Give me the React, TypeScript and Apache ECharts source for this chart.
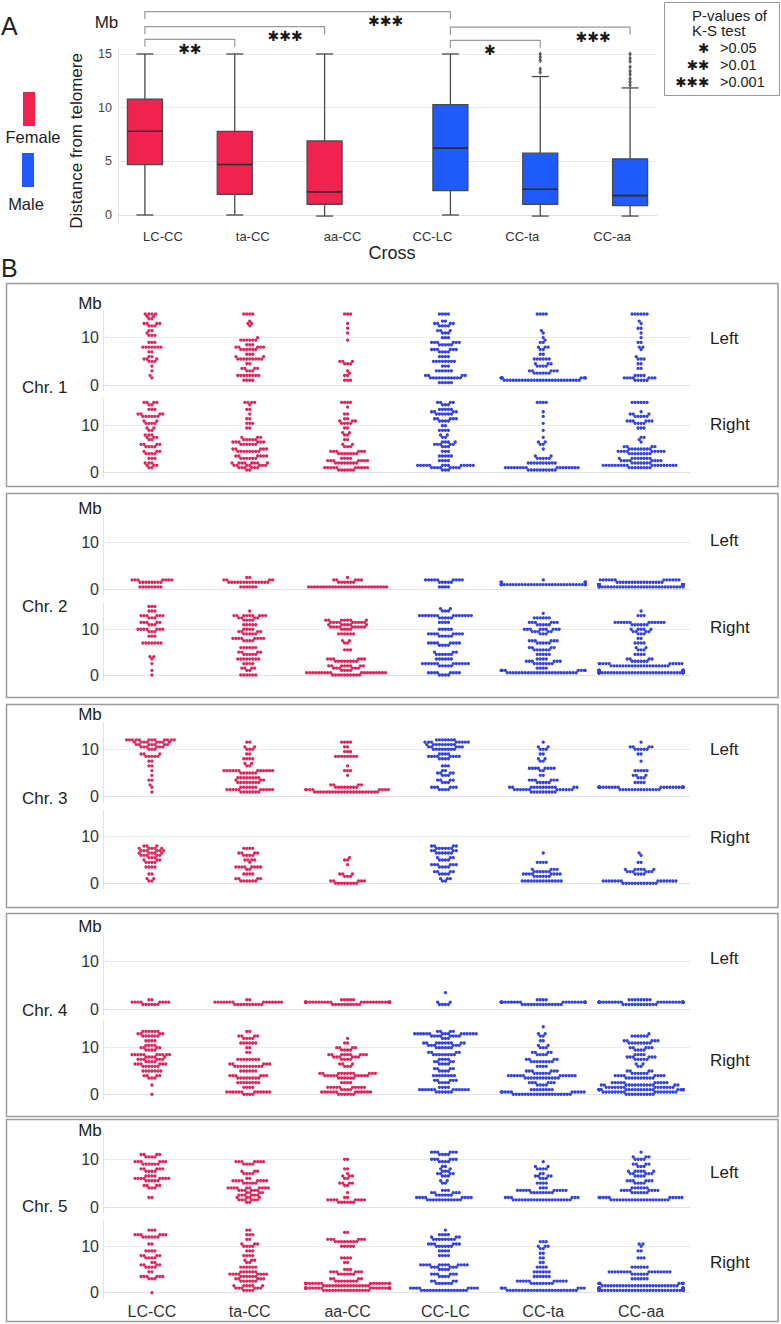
import React, { useEffect, useRef } from "react";
import * as echarts from "echarts";

// ---------------- DATA ----------------
const crosses = ["LC-CC", "ta-CC", "aa-CC", "CC-LC", "CC-ta", "CC-aa"];
const sexOfCross = ["Female", "Female", "Female", "Male", "Male", "Male"];

// Panel A box statistics: [lower whisker, Q1, median, Q3, upper whisker] (Mb)
const boxLow = [0, 0, -0.1, 0, -0.1, -0.1];
const boxQ1 = [4.7, 1.93, 1.0, 2.27, 1.0, 0.87];
const boxMedian = [7.8, 4.7, 2.15, 6.23, 2.4, 1.8];
const boxQ3 = [10.8, 7.8, 6.9, 10.28, 5.76, 5.23];
const boxHigh = [15, 15, 15, 15, 12.9, 11.84];
const outliersCCta = [15, 14.7, 14.4, 13.6, 13.3];
const outliersCCaa = [15, 14.6, 14.3, 13.8, 13.4, 13.1, 12.7, 12.4, 12.1];
const yTicksA = [0, 5, 10, 15];

// K-S test comparisons: [category a, category b, significance]
const comparisons: [number, number, number][] = [
  [0, 1, 2],
  [0, 2, 3],
  [0, 3, 3],
  [3, 4, 1],
  [3, 5, 3],
];
const STAR = "\u2731";
const pLegendStars = [1, 2, 3];
const pLegendValues = [">0.05", ">0.01", ">0.001"];

// Panel B: swarm values, "value*count" (Mb), one string per cross
const chr1Left = [
  "15*4 14.5*2 14*2 13*4 12.5*3 11.5*2 11*1 10.5*3 9*3 8*7 7*2 6*2 5.5*3 5*3 4*1 3*1 2*1 1.5*1",
  "15*4 13.5*1 13*2 12.5*1 10*1 9.5*6 8.5*3 8*5 7.5*6 6.5*3 6*2 5.5*9 4.5*2 3.5*4 3*3 2*8 1*4",
  "15*3 13*1 12*1 11*1 9.5*1 5*3 4.5*3 3*1 2.5*1 2*2 1*3",
  "15*4 13.5*2 13*4 12.5*4 11.5*3 11*3 10*3 9*6 8.5*5 7.5*6 7*4 6*4 5*8 4*3 3*6 2*4 1.5*11 0.5*5",
  "15*4 11.5*1 11*1 10*1 9.5*1 9*2 8*3 7.5*2 6.5*2 5.5*6 4.5*3 4*4 3*5 2.5*6 1.5*8 1*26",
  "15*6 13.5*1 13*1 12*2 11*1 10*1 9*2 8*2 7.5*1 6*1 5.5*3 4.5*2 3.5*2 2*4 1.5*7 1*5",
];
const chr1Right = [
  "15*4 14.5*2 13.5*3 12.5*4 12*6 11*2 10.5*4 9.5*2 9*2 8*3 7.5*3 7*2 6*4 5.5*4 4.5*3 4*4 3*3 2*3 1.5*3 1*2",
  "15*4 14.5*1 13.5*2 12.5*1 11.5*2 10.5*3 9.5*2 7.5*3 7*5 6.5*6 6*6 5*5 4.5*8 3.5*6 3*6 2*8 1.5*7 1*6 0.5*2",
  "15*4 14*1 12.5*2 11.5*2 11*3 10.5*4 9.5*2 8.5*2 8*2 7*2 6*2 5.5*3 4.5*6 4*7 3*4 2.5*7 2*8 1*10 0.5*6",
  "15*4 14.5*3 13.5*5 13*4 12.5*6 11.5*5 11*4 10*2 9*4 8*2 7.5*2 6.5*4 6*5 5.5*3 4.5*3 3.5*5 2.5*4 1.5*13 1*8 0.5*3",
  "15*4 13*1 12*1 10.5*1 9*1 7.5*1 6.5*2 6*2 5*1 3.5*2 3*5 2*10 1*16 0.5*10",
  "15*6 13*1 12.5*3 12*5 11*6 10.5*4 9.5*3 7.5*2 7*1 6.5*1 5.5*4 5*8 4.5*9 4*8 3*8 2.5*8 2*7 1.5*18 1*8",
];
const chr2Left = [
  "2*7 1.5*8 0.5*8",
  "2.5*2 2*4 1.5*14 0.5*6",
  "2.5*1 2*5 1.5*6 0.5*27",
  "2*9 1.5*5 0.5*4",
  "2*1 1.5*6 1*34",
  "2*12 1.5*16 1*40 0.5*30",
];
const chr2Right = [
  "15*3 14*3 13*6 12.5*3 11.5*5 11*3 10*7 9.5*3 8.5*3 7*7 4*2 3.5*1 2.5*1 1*1 0*1",
  "14*1 13*9 12.5*4 12*4 11*5 10*4 9.5*4 9*5 8*8 7.5*4 6*6 5*4 4.5*5 3.5*8 2.5*4 1.5*4 1*2 0*6",
  "12*7 11.5*9 11*6 10.5*9 10*4 9*6 7.5*2 7*2 5.5*3 3.5*6 3*8 2*8 1.5*6 1*4 0.5*18 0*10",
  "14.5*2 14*3 13*14 12.5*5 11.5*4 10*5 9*8 8.5*5 7*8 6.5*4 5*3 4.5*6 3.5*6 2.5*12 2*5 0.5*8 0*4",
  "13.5*1 12.5*6 11.5*6 11*5 10*9 9.5*5 9*3 7.5*6 7*5 6*4 5.5*6 4.5*5 3.5*4 3*6 2.5*7 1.5*4 1*8 0.5*24",
  "14*1 13*3 11.5*12 11*6 10*5 9.5*4 9*3 8*2 7*4 6*2 5.5*3 4.5*4 3.5*4 3*6 2.5*10 2*20 1*14 0.5*38",
];
const chr3Left = [
  "12*12 11.5*8 11*7 10.5*6 10*3 9*3 8.5*5 7.5*2 6.5*2 5.5*1 4.5*1 3.5*2 2.5*1 2*1 1*1",
  "11.5*2 10.5*2 10*3 9*2 8*4 7*2 6.5*2 5.5*12 5*6 4*8 3.5*3 3*8 2*6 1.5*10 1*7",
  "11.5*4 10.5*2 9.5*3 8.5*8 6.5*1 5.5*3 4.5*1 2.5*4 2*8 1.5*8 1*22",
  "12*7 11.5*8 11*9 10.5*5 10*8 9*4 8.5*8 8*4 6.5*3 5.5*2 5*4 4.5*3 3.5*4 3*3 2*6 1.5*4",
  "11.5*1 10.5*2 10*3 9*2 8*2 7.5*2 6*8 5.5*2 4.5*2 3.5*6 3*5 2*13 1.5*12 1*9",
  "11.5*1 10.5*4 10*5 9*2 7.5*1 5.5*5 4.5*3 4*3 3*4 2*24 1.5*14",
];
const chr3Right = [
  "8*3 7.5*5 7*6 6.5*5 6*5 5.5*3 5*3 4.5*4 3.5*4 2*2 1*2 0.5*2",
  "7.5*4 6.5*4 6*4 5*4 4.5*1 3.5*8 3*2 2*4 1*4 0.5*6",
  "5.5*1 5*2 4*1 2*3 1.5*3 0.5*5 0*8",
  "8*4 7.5*6 7*4 6.5*6 5.5*3 5*4 4*6 3.5*4 2.5*4 2*4 1*3 0.5*2",
  "6.5*1 4.5*4 3*4 2.5*6 2*8 1.5*6 0.5*14",
  "6.5*1 6*1 4.5*2 3*6 2.5*6 2*4 0.5*14 0*12",
];
const chr4Left = [
  "2*2 1.5*8 1*6",
  "2*2 1.5*14 1*10",
  "2*5 1.5*30 1*10",
  "3.5*1 1.5*2 1*4",
  "2*4 1.5*22 1*14",
  "2*8 1.5*30 1*12",
];
const chr4Right = [
  "13.5*6 13*4 12.5*6 11.5*4 10.5*4 10*4 9.5*4 8.5*10 8*5 7.5*6 7*4 6.5*6 6*6 5*7 4*4 3.5*3 2*1 0*1",
  "13.5*2 12.5*4 12*4 11*6 10*2 9*2 7.5*8 6.5*5 6*10 5*6 4*6 3.5*8 2.5*8 1.5*4 0.5*12 0*4",
  "12*1 11*2 10*4 9.5*4 8.5*9 8*6 7.5*4 6.5*3 6*3 4.5*11 4*10 3.5*6 2.5*4 1.5*10 1*4 0.5*12 0*6",
  "13.5*4 13*15 12.5*8 12*3 11*10 10.5*6 10*6 9*4 8.5*8 7.5*4 7*4 6.5*4 5.5*4 5*4 4*8 3*5 2.5*4 1.5*4 1*12 0.5*6",
  "14.5*1 13*2 12.5*2 11.5*2 10.5*2 10*3 9*4 8.5*4 7.5*4 7*8 6*4 5*6 4.5*6 4*12 3.5*12 2.5*6 2*4 1*8 0.5*10 0*20",
  "13*1 12.5*6 11.5*5 11*8 10*5 9.5*4 8.5*4 8*6 7.5*5 6.5*2 6*2 5*4 4.5*6 4*8 3.5*10 2.5*10 2*14 1.5*14 1*24 0.5*16 0*10",
];
const chr5Left = [
  "11*4 10.5*4 9.5*6 9*6 8*5 7.5*4 6.5*4 6*8 5.5*5 4.5*4 4*3 2*2",
  "9.5*7 9*4 7.5*3 7*4 6*2 5.5*8 5*5 4*10 3.5*6 3*4 2.5*6 2*4 1.5*6 1*2",
  "10*2 8*2 7*1 6.5*3 6*2 5*4 4.5*2 3*1 2*2 1.5*8 1*6",
  "11.5*6 11*4 10*6 9.5*4 8.5*2 8*2 7.5*3 7*4 6.5*3 5.5*2 5*2 3.5*3 3*5 2.5*6 2*8 1.5*12",
  "9.5*1 8.5*2 8*4 7*2 6.5*4 6*3 5*4 4*3 3.5*10 3*8 2*6 1.5*20",
  "11.5*1 10.5*3 10*4 9*4 8.5*3 7.5*6 7*5 6.5*4 5.5*6 5*4 4*6 3.5*8 3*6 2*10 1.5*20",
];
const chr5Right = [
  "13.5*3 12.5*6 12*6 10.5*2 9*4 8*4 7.5*4 6.5*2 6*4 5.5*4 4.5*2 3.5*6 3*3 0*1",
  "13.5*2 12.5*3 11.5*2 10.5*3 10*4 9*3 8*4 7*3 6.5*2 5.5*6 4.5*6 4*8 3.5*6 3*5 2.5*6 1.5*6 1*6 0.5*4",
  "13*2 11.5*6 11*8 10*5 7.5*4 6.5*2 5*3 4.5*6 4*6 3*4 2.5*8 2*18 1.5*16 1*24 0.5*16",
  "13.5*1 12.5*4 12*3 11.5*8 10.5*6 10*6 9*4 8*4 6*12 5.5*6 5*4 4*6 3.5*4 2.5*4 2*6 1*8 0.5*16",
  "11*3 10*3 9.5*2 8.5*2 7.5*2 6.5*2 5.5*4 4.5*6 3.5*6 2.5*10 2*8 1*6 0.5*24",
  "10.5*2 10*1 9*2 7.5*3 5.5*6 4.5*16 4*6 3*6 2*8 1.5*26 1*14 0.5*36",
];
const chromosomes = ["Chr. 1", "Chr. 2", "Chr. 3", "Chr. 4", "Chr. 5"];
const swarms = [
  [chr1Left, chr1Right],
  [chr2Left, chr2Right],
  [chr3Left, chr3Right],
  [chr4Left, chr4Right],
  [chr5Left, chr5Right],
];
const sides = ["Left", "Right"];
const yTicksB = [0, 10];

// ---------------- STYLE / LAYOUT ----------------
const FONT = "Liberation Sans, Arial, sans-serif";
const STAR_FONT_FAMILY = "DejaVu Sans, sans-serif";
const F_BOX = "#EF2250";
const M_BOX = "#1E5BF8";
const F_DOT = "#E1245A";
const M_DOT = "#3442E4";
const LINE = "#4a4a4a";
const AXIS_LINE = "#e2e2e2";
const GRID_LINE = "#ebebeb";
const TXT = "#222";

const A_LEFT = 118, A_TOP = 48, A_WIDTH = 539, A_HEIGHT = 176;
const A_YMIN = -0.84, A_YMAX = 15.56;
const DODGE = 18, BOX_W = 35, CAP_W = 17;
const bracketHeights = [16.37, 17.55, 18.95, 16.27, 17.5];
const starPositions = [0.3, 1.36, 2.48, 3.64, 4.79];
const TICK_DROP = 7.5, STAR_DY = 9.5, STAR_SIZE = 14;

const B_LEFT = 103, B_WIDTH = 587;
const panelTops = [283, 493, 704, 913, 1119];
const panelBottoms = [486, 697, 907, 1116, 1321];
// pixel offsets from panel top: [left 0, left 10, right 0, right 10]
const zeroTen = [
  [102, 54.7, 189.3, 142.7],
  [96.3, 49.3, 182, 136.3],
  [92.7, 45.3, 179.3, 132.7],
  [96.3, 48.7, 181.3, 134.7],
  [88, 40.3, 173.7, 127.3],
];
const mbLabelY = [303, 508, 714, 926, 1130];
const chrLabelY = [387, 606, 798, 1010, 1206];
const sideLabelY = [[338, 424], [540, 627], [749, 837], [958, 1060], [1172, 1262]];
const B_YMIN = -1.2, B_YMAX = 15.7;
const DOT_D = 3.0, DOT_R = 1.65, SWARM_HALF = 42;

function parseSwarm(s: string): number[] {
  const out: number[] = [];
  s.trim().split(/\s+/).forEach((tok) => {
    const [v, n] = tok.split("*");
    const val = parseFloat(v);
    const cnt = parseInt(n, 10);
    for (let k = 0; k < cnt; k++) out.push(val);
  });
  return out;
}

// beeswarm layout (pixel offsets) - layout only, values untouched
function swarmOffsets(values: number[], ppu: number): number[] {
  const order = values.map((_, i) => i).sort((a, b) => values[a] - values[b]);
  const placed: { x: number; y: number }[] = [];
  const out: number[] = new Array(values.length).fill(0);
  const d2 = DOT_D * DOT_D;
  for (const i of order) {
    const y = values[i] * ppu;
    const nb = placed.filter((p) => Math.abs(p.y - y) < DOT_D);
    const cands = [0];
    for (const p of nb) {
      const dx = Math.sqrt(Math.max(0, d2 - (p.y - y) * (p.y - y)));
      cands.push(p.x + dx, p.x - dx);
    }
    cands.sort((a, b) => Math.abs(a) - Math.abs(b) || a - b);
    let chosen = cands[cands.length - 1];
    for (const c of cands) {
      let ok = true;
      for (const p of nb) {
        if ((p.x - c) * (p.x - c) + (p.y - y) * (p.y - y) < d2 - 1e-6) { ok = false; break; }
      }
      if (ok) { chosen = c; break; }
    }
    placed.push({ x: chosen, y });
    out[i] = Math.max(-SWARM_HALF, Math.min(SWARM_HALF, chosen));
  }
  return out;
}

function txt(text: string, x: number, y: number, size: number, align = "left", extra: any = {}) {
  const { fill, weight, family, ...rest } = extra;
  return {
    type: "text",
    x, y, silent: true,
    ...rest,
    style: {
      text, fill: fill || TXT,
      font: `${weight || "normal"} ${size}px ${family || FONT}`,
      align, verticalAlign: "middle", textAlign: align, textVerticalAlign: "middle",
    },
  };
}

function buildOption() {
  const grid: any[] = [], xAxis: any[] = [], yAxis: any[] = [], series: any[] = [], graphic: any[] = [];

  // ---------- Panel A ----------
  grid.push({ left: A_LEFT, top: A_TOP, width: A_WIDTH, height: A_HEIGHT });
  xAxis.push({
    type: "category", gridIndex: 0, data: crosses,
    axisLine: { show: true, lineStyle: { color: AXIS_LINE } },
    axisTick: { show: false },
    axisLabel: { fontSize: 13, color: "#333", margin: 6, fontFamily: FONT },
    splitLine: { show: false },
  });
  yAxis.push({
    type: "value", gridIndex: 0, min: A_YMIN, max: A_YMAX,
    axisLine: { show: true, lineStyle: { color: AXIS_LINE } },
    axisTick: { show: false, customValues: yTicksA },
    axisLabel: { customValues: yTicksA, fontSize: 12.5, color: "#444", margin: 6, fontFamily: FONT },
    splitLine: { show: true, lineStyle: { color: GRID_LINE } },
  });
  const boxData = crosses.map((_, i) => [i, boxLow[i], boxQ1[i], boxMedian[i], boxQ3[i], boxHigh[i]]);
  series.push({
    type: "custom", xAxisIndex: 0, yAxisIndex: 0, clip: false, z: 3,
    encode: { x: 0, y: [1, 2, 3, 4, 5] },
    data: boxData,
    renderItem: (params: any, api: any) => {
      const i = api.value(0);
      const female = sexOfCross[i] === "Female";
      const cx = api.coord([i, 0])[0] + (female ? -DODGE : DODGE);
      const py = (v: number) => api.coord([i, v])[1];
      const lo = py(api.value(1)), q1 = py(api.value(2)), md = py(api.value(3)), q3 = py(api.value(4)), hi = py(api.value(5));
      const ls = { stroke: LINE, lineWidth: 1.3 };
      return {
        type: "group",
        children: [
          { type: "line", shape: { x1: cx, y1: hi, x2: cx, y2: q3 }, style: ls },
          { type: "line", shape: { x1: cx, y1: q1, x2: cx, y2: lo }, style: ls },
          { type: "line", shape: { x1: cx - CAP_W / 2, y1: hi, x2: cx + CAP_W / 2, y2: hi }, style: ls },
          { type: "line", shape: { x1: cx - CAP_W / 2, y1: lo, x2: cx + CAP_W / 2, y2: lo }, style: ls },
          { type: "rect", shape: { x: cx - BOX_W / 2, y: q3, width: BOX_W, height: q1 - q3 }, style: { fill: female ? F_BOX : M_BOX, stroke: LINE, lineWidth: 1.3 } },
          { type: "line", shape: { x1: cx - BOX_W / 2, y1: md, x2: cx + BOX_W / 2, y2: md }, style: { stroke: "#2f2a2d", lineWidth: 1.6 } },
        ],
      };
    },
  });
  series.push({
    type: "scatter", xAxisIndex: 0, yAxisIndex: 0, symbol: "diamond", symbolSize: [3.6, 5.5],
    symbolOffset: [DODGE, 0], itemStyle: { color: "#3c3c3c" }, z: 4, silent: true,
    data: [...outliersCCta.map((v) => [4, v]), ...outliersCCaa.map((v) => [5, v])],
  });
  series.push({
    type: "custom", xAxisIndex: 0, yAxisIndex: 0, clip: false, z: 5, silent: true,
    data: comparisons.map((c) => [c[0], 0]),
    renderItem: (params: any, api: any) => {
      const k = params.dataIndex;
      const [a, b, nStars] = comparisons[k];
      const h = bracketHeights[k];
      const xa = api.coord([a, h])[0] + (sexOfCross[a] === "Female" ? -DODGE : DODGE);
      const xb = api.coord([b, h])[0] + (sexOfCross[b] === "Female" ? -DODGE : DODGE);
      const y = api.coord([a, h])[1];
      const x0 = api.coord([0, h])[0], x1 = api.coord([1, h])[0];
      const sx = x0 + starPositions[k] * (x1 - x0);
      return {
        type: "group",
        children: [
          { type: "polyline", shape: { points: [[xa, y + TICK_DROP], [xa, y], [xb, y], [xb, y + TICK_DROP]] }, style: { stroke: "#9a9a9a", lineWidth: 1.2, fill: "none" } },
          {
            type: "text", x: sx, y: y + STAR_DY,
            style: { text: STAR.repeat(nStars), fill: "#1a1a1a", font: `normal ${STAR_SIZE}px ${STAR_FONT_FAMILY}`, align: "center", verticalAlign: "middle", textAlign: "center", textVerticalAlign: "middle" },
          },
        ],
      };
    },
  });

  // Panel A annotations
  graphic.push(txt("A", 1, 26, 25));
  graphic.push(txt("Mb", 106.5, 22, 17, "center"));
  graphic.push({ type: "rect", shape: { x: 23, y: 92, width: 12, height: 34 }, style: { fill: F_BOX }, silent: true });
  graphic.push(txt("Female", 33, 137, 16.5, "center"));
  graphic.push({ type: "rect", shape: { x: 22, y: 153, width: 12, height: 34 }, style: { fill: M_BOX }, silent: true });
  graphic.push(txt("Male", 26, 204, 16.5, "center"));
  graphic.push(txt("Distance from telomere", 76, 141, 17, "center", { rotation: Math.PI / 2 }));
  graphic.push(txt("Cross", 392, 253, 18, "center"));
  graphic.push({ type: "rect", shape: { x: 664.5, y: 2.5, width: 115, height: 93 }, style: { fill: "#fff", stroke: "#999", lineWidth: 1 }, silent: true });
  graphic.push(txt("P-values of", 692, 15, 15));
  graphic.push(txt("K-S test", 692, 30, 15));
  const pRowsY = [48, 65, 82];
  pLegendStars.forEach((n, k) => {
    graphic.push(txt(STAR.repeat(n), 709, pRowsY[k], 13.5, "right", { fill: "#1a1a1a", family: STAR_FONT_FAMILY }));
    graphic.push(txt(pLegendValues[k], 720, pRowsY[k], 14.5));
  });

  // ---------- Panel B ----------
  graphic.push(txt("B", 1, 268, 25));
  for (let c = 0; c < 5; c++) {
    const T = panelTops[c];
    graphic.push({ type: "rect", shape: { x: 6.5, y: T + 0.5, width: 771.5, height: panelBottoms[c] - T }, style: { fill: "none", stroke: "#9c9c9c", lineWidth: 1.5 }, silent: true, z: -1 });
    graphic.push(txt("Mb", 90, mbLabelY[c], 17, "center"));
    graphic.push(txt(chromosomes[c], 22, chrLabelY[c], 17));
    for (let s = 0; s < 2; s++) {
      graphic.push(txt(sides[s], 710, sideLabelY[c][s], 17));
      const gi = 1 + c * 2 + s;
      const zeroPx = T + zeroTen[c][s * 2];
      const tenPx = T + zeroTen[c][s * 2 + 1];
      const ppu = (zeroPx - tenPx) / 10;
      const top = zeroPx - B_YMAX * ppu;
      const height = (B_YMAX - B_YMIN) * ppu;
      const lastRow = c === 4 && s === 1;
      grid.push({ left: B_LEFT, width: B_WIDTH, top, height });
      xAxis.push({
        type: "category", gridIndex: gi, data: crosses,
        axisLine: { show: true, lineStyle: { color: AXIS_LINE } },
        axisTick: { show: false },
        axisLabel: { show: lastRow, fontSize: 16, color: "#333", margin: 5, fontFamily: FONT },
        splitLine: { show: false },
      });
      yAxis.push({
        type: "value", gridIndex: gi, min: B_YMIN, max: B_YMAX,
        axisLine: { show: true, lineStyle: { color: AXIS_LINE } },
        axisTick: { show: false, customValues: yTicksB },
        axisLabel: { customValues: yTicksB, fontSize: 16, color: "#333", margin: 4, fontFamily: FONT },
        splitLine: { show: true, lineStyle: { color: GRID_LINE } },
      });
      const data: number[][] = [];
      swarms[c][s].forEach((str, i) => {
        const vals = parseSwarm(str);
        const offs = swarmOffsets(vals, ppu);
        vals.forEach((v, k) => data.push([i, v, offs[k]]));
      });
      series.push({
        type: "custom", xAxisIndex: gi, yAxisIndex: gi, clip: false, silent: true,
        encode: { x: 0, y: 1 },
        data,
        renderItem: (params: any, api: any) => {
          const i = api.value(0);
          const p = api.coord([i, api.value(1)]);
          return {
            type: "circle",
            shape: { cx: p[0] + api.value(2), cy: p[1], r: DOT_R },
            style: { fill: sexOfCross[i] === "Female" ? F_DOT : M_DOT },
          };
        },
      });
    }
  }

  return { animation: false, backgroundColor: "#fff", textStyle: { fontFamily: FONT }, grid, xAxis, yAxis, series, graphic };
}

export default function App() {
  const ref = useRef<HTMLDivElement>(null);
  useEffect(() => {
    if (!ref.current) return;
    const chart = echarts.init(ref.current, undefined, { renderer: "svg" });
    chart.setOption(buildOption() as any);
    return () => chart.dispose();
  }, []);
  return <div ref={ref} style={{ position: "absolute", left: 0, top: 0, width: 781, height: 1324, background: "#fff" }} />;
}
